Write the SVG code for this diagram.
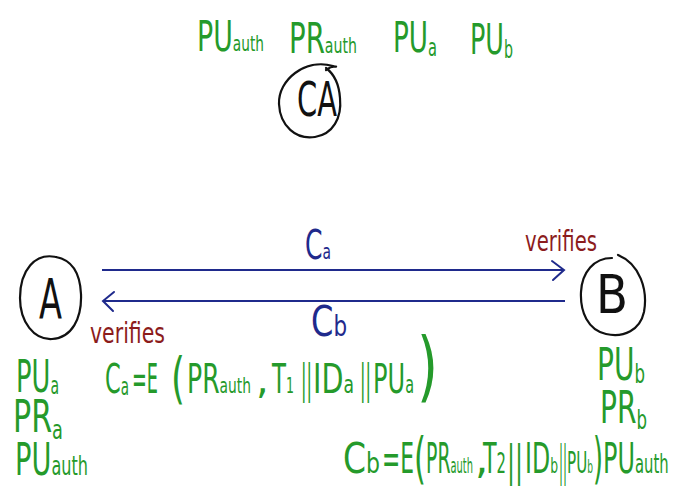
<svg xmlns="http://www.w3.org/2000/svg" width="675" height="494" viewBox="0 0 675 494">
<defs>
<style>
text{font-family:"DejaVu Sans","Liberation Sans",sans-serif;}
.g{fill:#259a2b;}
.k{fill:#111;}
.bl{fill:#1f2a8c;}
.r{fill:#8c1c1c;}
.node{fill:none;stroke:#111;stroke-width:2.2;stroke-linecap:round;}
.conn{stroke:#1f2a8c;stroke-width:2;fill:none;}
.head{stroke:#1f2a8c;stroke-width:2;fill:none;stroke-linecap:round;}
</style>
</defs>
<rect width="675" height="494" fill="#fff"/>

<g id="ca-keys" font-size="43">
<text class="g" x="197" y="51" textLength="67" lengthAdjust="spacingAndGlyphs">PU<tspan font-size="22">auth</tspan></text>
<text class="g" x="289" y="53" textLength="68" lengthAdjust="spacingAndGlyphs">PR<tspan font-size="22">auth</tspan></text>
<text class="g" x="393" y="52" textLength="44" lengthAdjust="spacingAndGlyphs">PU<tspan font-size="24" dy="4">a</tspan></text>
<text class="g" x="470" y="54" textLength="43" lengthAdjust="spacingAndGlyphs">PU<tspan font-size="24" dy="4">b</tspan></text>
</g>

<g id="node-CA">
<path class="node" d="M326,70 C334,64 340,68 333,66 C305,58 278,80 279,104 C280,126 296,140 315,137 C333,134 342,118 340,98 C339,84 334,74 326,68"/>
<text class="k" x="297" y="116" font-size="48" textLength="40" lengthAdjust="spacingAndGlyphs">CA</text>
</g>

<g id="node-A">
<path class="node" d="M60,258 C34,250 20,272 20,298 C20,322 34,340 52,339 C72,338 82,318 81,294 C80,272 72,260 56,257"/>
<text class="k" x="39" y="318" font-size="56" textLength="23" lengthAdjust="spacingAndGlyphs">A</text>
</g>

<g id="node-B">
<path class="node" d="M618,255 C640,264 648,290 644,312 C640,330 624,338 606,334 C588,330 580,312 581,292 C582,272 594,258 612,258"/>
<text class="k" x="596" y="313" font-size="54" textLength="32" lengthAdjust="spacingAndGlyphs">B</text>
</g>

<g id="connectors">
<line class="conn" x1="102" y1="270" x2="564" y2="270"/>
<polyline class="head" points="552,261 564,270 553,280"/>
<line class="conn" x1="103" y1="301" x2="565" y2="301"/>
<polyline class="head" points="114,292 103,301 113,311"/>
<text class="bl" x="305" y="259" font-size="40" textLength="26" lengthAdjust="spacingAndGlyphs">C<tspan font-size="22">a</tspan></text>
<text class="bl" x="311" y="336" font-size="42" textLength="36" lengthAdjust="spacingAndGlyphs">C<tspan font-size="28">b</tspan></text>
<text class="r" x="525" y="251" font-size="28" textLength="72" lengthAdjust="spacingAndGlyphs">verifies</text>
<text class="r" x="90" y="343" font-size="28" textLength="75" lengthAdjust="spacingAndGlyphs">verifies</text>
</g>

<g id="A-keys" font-size="44">
<text class="g" x="16" y="392" textLength="43" lengthAdjust="spacingAndGlyphs">PU<tspan font-size="24" dy="2">a</tspan></text>
<text class="g" x="13" y="432" textLength="50" lengthAdjust="spacingAndGlyphs">PR<tspan font-size="26" dy="7">a</tspan></text>
<text class="g" x="15" y="475" textLength="73" lengthAdjust="spacingAndGlyphs">PU<tspan font-size="26">auth</tspan></text>
</g>

<g id="B-keys" font-size="44">
<text class="g" x="597" y="380" textLength="48" lengthAdjust="spacingAndGlyphs">PU<tspan font-size="26" dy="3">b</tspan></text>
<text class="g" x="600" y="423" textLength="47" lengthAdjust="spacingAndGlyphs">PR<tspan font-size="26" dy="6">b</tspan></text>
</g>

<g id="eq-Ca" font-size="40">
<text class="g" x="105" y="393" textLength="24" lengthAdjust="spacingAndGlyphs">C<tspan font-size="24" dy="2">a</tspan></text>
<text class="g" x="132" y="393" textLength="26" lengthAdjust="spacingAndGlyphs">=E</text>
<text class="g" x="171" y="397" font-size="56" textLength="14" lengthAdjust="spacingAndGlyphs">(</text>
<text class="g" x="187" y="393" textLength="64" lengthAdjust="spacingAndGlyphs">PR<tspan font-size="22">auth</tspan></text>
<text class="g" x="256" y="393">,</text>
<text class="g" x="272" y="393" textLength="22" lengthAdjust="spacingAndGlyphs">T<tspan font-size="22">1</tspan></text>
<text class="g" x="301" y="393" textLength="11" lengthAdjust="spacingAndGlyphs">||</text>
<text class="g" x="313" y="393" textLength="41" lengthAdjust="spacingAndGlyphs">ID<tspan font-size="24">a</tspan></text>
<text class="g" x="360" y="393" textLength="11" lengthAdjust="spacingAndGlyphs">||</text>
<text class="g" x="373" y="393" textLength="41" lengthAdjust="spacingAndGlyphs">PU<tspan font-size="24">a</tspan></text>
<text class="g" x="417" y="392" font-size="76" textLength="21" lengthAdjust="spacingAndGlyphs">)</text>
</g>

<g id="eq-Cb" font-size="42">
<text class="g" x="343" y="473" textLength="37" lengthAdjust="spacingAndGlyphs">C<tspan font-size="28">b</tspan></text>
<text class="g" x="382" y="473" textLength="32" lengthAdjust="spacingAndGlyphs">=E</text>
<text class="g" x="414" y="477" font-size="56" textLength="12" lengthAdjust="spacingAndGlyphs">(</text>
<text class="g" x="426" y="473" textLength="47" lengthAdjust="spacingAndGlyphs">PR<tspan font-size="22">auth</tspan></text>
<text class="g" x="475" y="473">,</text>
<text class="g" x="483" y="473" textLength="23" lengthAdjust="spacingAndGlyphs">T<tspan font-size="28">2</tspan></text>
<text class="g" x="507" y="476" textLength="16" lengthAdjust="spacingAndGlyphs">||</text>
<text class="g" x="525" y="473" textLength="33" lengthAdjust="spacingAndGlyphs">ID<tspan font-size="22">b</tspan></text>
<text class="g" x="559" y="476" textLength="8" lengthAdjust="spacingAndGlyphs">||</text>
<text class="g" x="567" y="473" font-size="30" textLength="26" lengthAdjust="spacingAndGlyphs">PU<tspan font-size="18">b</tspan></text>
<text class="g" x="593" y="477" font-size="56" textLength="10" lengthAdjust="spacingAndGlyphs">)</text>
<text class="g" transform="translate(603,473) scale(0.57,1)">PU<tspan font-size="26">auth</tspan></text>
</g>
</svg>
